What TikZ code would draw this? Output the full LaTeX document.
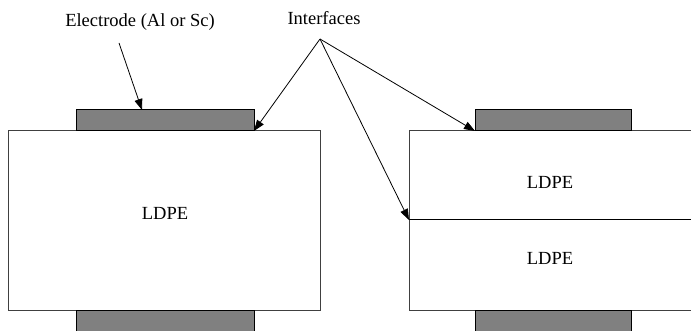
\documentclass[tikz,border=0pt]{standalone}
\usepackage{fontspec}
\setmainfont{Liberation Serif}
\usetikzlibrary{arrows.meta}
\begin{document}
\begin{tikzpicture}[x=1pt,y=-1pt,
  layer/.style={draw=black!75,line width=1pt,fill=white,inner sep=0pt,outer sep=0pt},
  electrode/.style={draw=black,line width=1pt,fill=black!50,inner sep=0pt,outer sep=0pt,minimum height=21pt},
  lbl/.style={font=\fontsize{18.5}{22}\selectfont,inner sep=0pt},
  arr/.style={line width=0.8pt,-{Triangle[length=11pt,width=8pt]}}]
\useasboundingbox (0,0) rectangle (691,331);
% left stack
\node[layer,minimum width=312pt,minimum height=179pt] (bL) at (164.5,220.5) {};
\node[electrode,minimum width=178pt] (eLt) at (165,120.5) {};
\node[electrode,minimum width=178pt] (eLb) at (165,320.5) {};
\node[lbl] (tL) at (165,213) {LDPE};
% right stack
\node[layer,minimum width=284pt,minimum height=89pt] (bR1) at (551,175.5) {};
\node[layer,minimum width=284pt,minimum height=90pt] (bR2) at (551,265) {};
\draw[black,line width=1pt] (bR1.south west) -- (bR1.south east);
\node[electrode,minimum width=156pt] (eRt) at (553,120.5) {};
\node[electrode,minimum width=156pt] (eRb) at (553,320.5) {};
\node[lbl] (tR1) at (550,182) {LDPE};
\node[lbl] (tR2) at (550,258) {LDPE};
% labels
\node[lbl] (le) at (140,22) {Electrode (Al or Sc)};
\node[lbl] (li) at (324,18) {Interfaces};
\coordinate (ep) at (119,43);
\coordinate (ip) at (320,39);
\coordinate (eptarget) at (142,110);
\draw[arr] (ep) -- (eptarget);
\draw[arr] (ip) -- (eLt.south east);
\draw[arr] (ip) -- (eRt.south west);
\draw[arr] (ip) -- (bR1.south west);
\end{tikzpicture}
\end{document}
